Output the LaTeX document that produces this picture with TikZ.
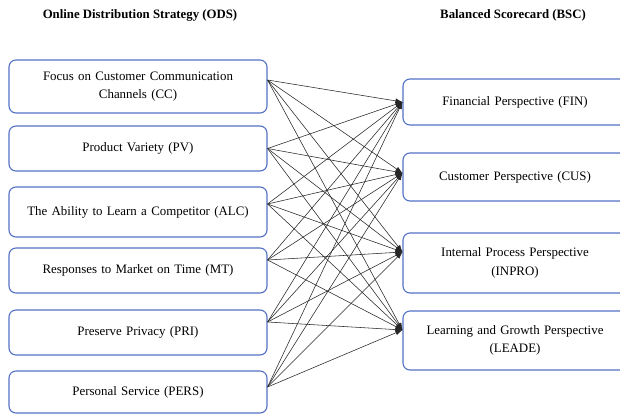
\documentclass[tikz,border=0pt]{standalone}
\usepackage{fontspec}
\setmainfont{Liberation Serif}
\usetikzlibrary{arrows.meta}
\definecolor{boxblue}{RGB}{84,114,196}
\begin{document}
\begin{tikzpicture}[x=1pt,y=-1pt,
  lbox/.style={draw=boxblue,line width=1.1pt,rounded corners=7pt,fill=white,
    minimum width=258pt,text width=240pt,align=center,inner sep=0pt,
    font=\fontsize{12.9}{18.5}\selectfont},
  rbox/.style={lbox,minimum width=224pt,text width=210pt},
  ttl/.style={font=\fontsize{12.8}{15}\selectfont\bfseries},
  conn/.style={draw=black!85,line width=0.55pt,-{Latex[length=7pt,width=5pt]}}]
\useasboundingbox (0,0) rectangle (620,415);
\fill[white] (0,0) rectangle (620,415);
\node[ttl] (ods) at (140,15) {Online Distribution Strategy (ODS)};
\node[ttl] (bsc) at (513,15) {Balanced Scorecard (BSC)};
% left boxes
\node[lbox,minimum height=53pt] (cc) at (138,86.5) {Focus on Customer Communication\\Channels (CC)};
\node[lbox,minimum height=45pt] (pv) at (138,148.5) {Product Variety (PV)};
\node[lbox,minimum height=50pt] (alc) at (138,212) {The Ability to Learn a Competitor (ALC)};
\node[lbox,minimum height=45pt] (mt) at (138,270.5) {Responses to Market on Time (MT)};
\node[lbox,minimum height=45pt] (pri) at (138,332.5) {Preserve Privacy (PRI)};
\node[lbox,minimum height=42pt] (pers) at (138,392) {Personal Service (PERS)};
% right boxes
\node[rbox,minimum height=46pt] (fin) at (515,102) {Financial Perspective (FIN)};
\node[rbox,minimum height=48pt] (cus) at (515,177) {Customer Perspective (CUS)};
\node[rbox,minimum height=60pt] (inpro) at (515,263) {Internal Process Perspective\\(INPRO)};
\node[rbox,minimum height=59pt] (leade) at (515,340.5) {Learning and Growth Perspective\\(LEADE)};
% connectors
\foreach \s/\sy in {cc/6.5,pv/0,alc/8,mt/10.5,pri/10.5,pers/5}{
  \foreach \t/\ty in {fin/0,cus/4,inpro/11,leade/10.5}{
    \draw[conn] ([yshift=\sy pt]\s.east) -- ([yshift=\ty pt]\t.west);
  }
}
\end{tikzpicture}
\end{document}
